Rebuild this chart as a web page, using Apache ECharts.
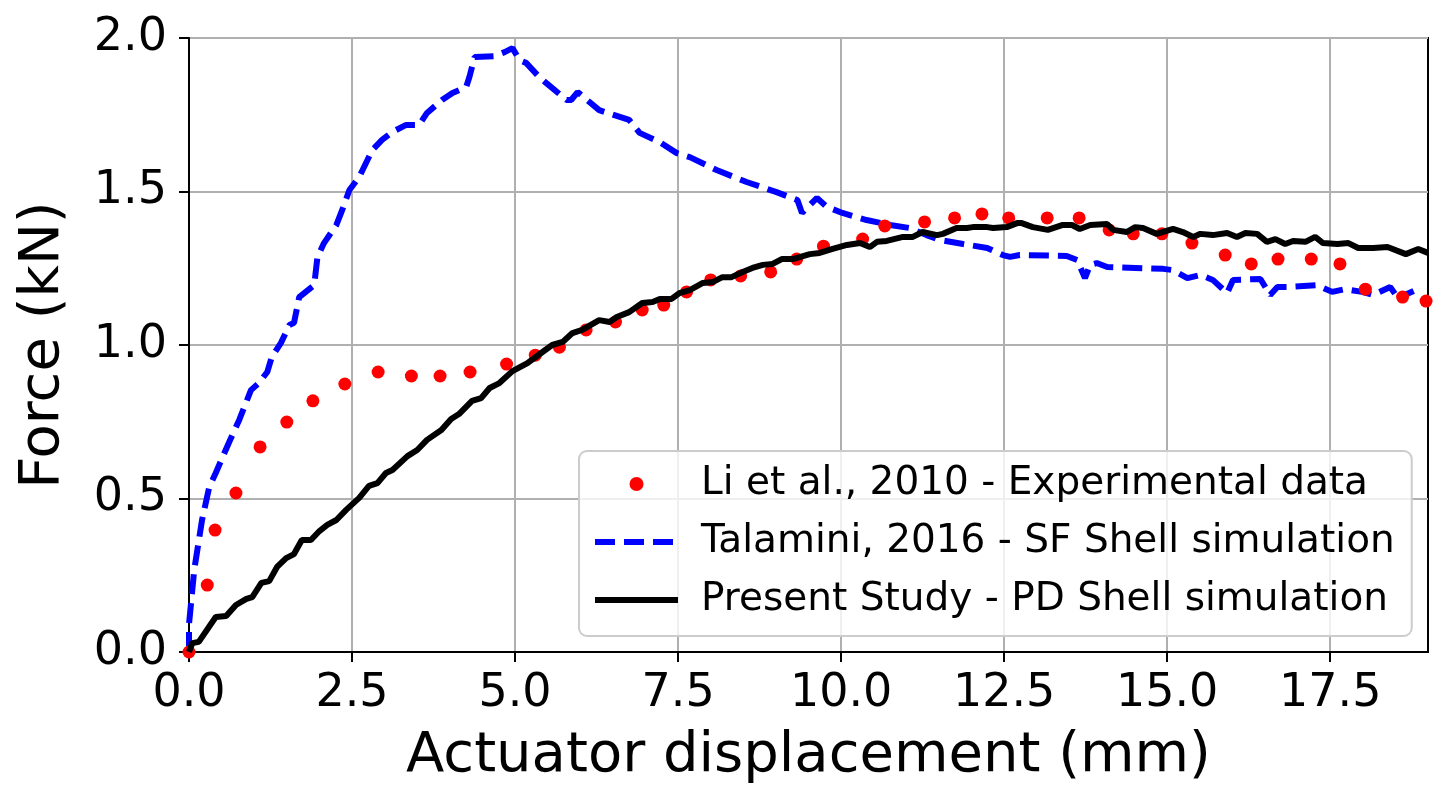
<!DOCTYPE html>
<html>
<head>
<meta charset="utf-8">
<script src="https://cdn.jsdelivr.net/npm/echarts@6/dist/echarts.min.js"></script>
<style>
  html, body { margin: 0; padding: 0; background: #fff; }
  #chart { width: 1449px; height: 807px; }
</style>
</head>
<body>
<div id="chart"></div>
<script>
// Li et al., 2010 - experimental points
const liX = [0, 0.28, 0.40, 0.72, 1.09, 1.50, 1.90, 2.39, 2.90, 3.41, 3.85, 4.31, 4.87, 5.31, 5.68,
  6.09, 6.54, 6.95, 7.28, 7.63, 8.00, 8.46, 8.92, 9.32, 9.73, 10.33, 10.67, 11.28, 11.74, 12.16,
  12.57, 13.16, 13.65, 14.11, 14.48, 14.92, 15.38, 15.89, 16.29, 16.70, 17.21, 17.65, 18.04, 18.61, 18.97];
const liY = [0, 0.218, 0.397, 0.518, 0.668, 0.749, 0.818, 0.873, 0.912, 0.899, 0.899, 0.912, 0.938, 0.967, 0.993,
  1.049, 1.075, 1.114, 1.130, 1.173, 1.212, 1.225, 1.238, 1.280, 1.322, 1.345, 1.388, 1.401, 1.414, 1.427,
  1.414, 1.414, 1.414, 1.375, 1.362, 1.362, 1.332, 1.293, 1.264, 1.280, 1.280, 1.264, 1.182, 1.156, 1.143];

// Talamini, 2016 - SF shell
const talX = [0, 0, 0.08, 0.20, 0.31, 0.41, 0.61, 0.77, 0.95, 1.07, 1.20, 1.27, 1.41, 1.54, 1.61, 1.69,
  1.92, 1.97, 2.07, 2.26, 2.35, 2.46, 2.61, 2.81, 2.96, 3.12, 3.33, 3.53, 3.65, 3.88, 4.04, 4.25,
  4.30, 4.38, 4.68, 4.84, 4.96, 5.07, 5.17, 5.37, 5.48, 5.79, 5.86, 5.96, 6.29, 6.75, 6.91, 7.22,
  7.48, 7.68, 8.09, 8.55, 9.01, 9.33, 9.40, 9.63, 9.78, 10.02, 10.39, 10.75, 11.05, 11.31, 11.51,
  11.87, 12.24, 12.48, 12.59, 12.74, 13.46, 13.62, 13.74, 13.82, 13.92, 14.08, 14.94, 15.09, 15.31,
  15.51, 15.70, 15.92, 16.01, 16.43, 16.58, 16.69, 16.84, 17.30, 17.53, 17.73, 17.99, 18.16, 18.42,
  18.54, 18.78];
const talY = [0, 0.09, 0.267, 0.43, 0.537, 0.583, 0.681, 0.756, 0.853, 0.876, 0.912, 0.961, 1.007, 1.065, 1.072, 1.156,
  1.195, 1.287, 1.332, 1.391, 1.440, 1.505, 1.547, 1.635, 1.668, 1.694, 1.717, 1.717, 1.756, 1.798, 1.821, 1.840,
  1.873, 1.938, 1.941, 1.954, 1.967, 1.928, 1.919, 1.873, 1.853, 1.798, 1.798, 1.824, 1.765, 1.733, 1.691, 1.661,
  1.625, 1.612, 1.570, 1.531, 1.498, 1.472, 1.430, 1.479, 1.450, 1.430, 1.407, 1.391, 1.381, 1.358, 1.342,
  1.329, 1.316, 1.293, 1.287, 1.293, 1.290, 1.277, 1.218, 1.261, 1.267, 1.254, 1.248, 1.244, 1.218,
  1.228, 1.212, 1.169, 1.212, 1.215, 1.163, 1.189, 1.189, 1.195, 1.173, 1.182, 1.173, 1.163, 1.189,
  1.153, 1.176];

// Present study - PD shell
const pdX = [0, 0.05, 0.15, 0.41, 0.57, 0.72, 0.88, 0.97, 1.11, 1.23, 1.35, 1.49, 1.61, 1.73, 1.87, 2.00,
  2.12, 2.26, 2.41, 2.61, 2.76, 2.89, 3.02, 3.12, 3.35, 3.50, 3.65, 3.87, 4.02, 4.14, 4.34, 4.48,
  4.61, 4.76, 4.96, 5.19, 5.40, 5.57, 5.73, 5.88, 6.03, 6.29, 6.45, 6.56, 6.75, 6.95, 7.11, 7.22,
  7.40, 7.52, 7.68, 7.88, 8.03, 8.18, 8.32, 8.49, 8.64, 8.80, 8.95, 9.09, 9.26, 9.52, 9.67, 9.87,
  10.09, 10.29, 10.44, 10.55, 10.70, 10.95, 11.10, 11.25, 11.47, 11.56, 11.77, 11.93, 12.02, 12.24,
  12.33, 12.54, 12.70, 12.77, 12.94, 13.17, 13.40, 13.54, 13.66, 13.82, 14.08, 14.17, 14.38, 14.51,
  14.63, 14.84, 15.09, 15.24, 15.40, 15.51, 15.70, 15.92, 16.07, 16.20, 16.38, 16.53, 16.66, 16.81,
  16.93, 17.12, 17.27, 17.39, 17.61, 17.78, 17.93, 18.16, 18.38, 18.66, 18.85, 19.00];
const pdY = [0, 0.029, 0.033, 0.114, 0.117, 0.153, 0.173, 0.179, 0.225, 0.231, 0.277, 0.306, 0.319, 0.365, 0.365, 0.394,
  0.414, 0.430, 0.463, 0.502, 0.541, 0.550, 0.583, 0.593, 0.638, 0.658, 0.691, 0.723, 0.759, 0.775, 0.818, 0.827,
  0.860, 0.876, 0.915, 0.941, 0.974, 1.000, 1.010, 1.039, 1.049, 1.081, 1.075, 1.091, 1.107, 1.137, 1.140, 1.150,
  1.150, 1.169, 1.179, 1.202, 1.205, 1.221, 1.221, 1.238, 1.251, 1.261, 1.264, 1.280, 1.280, 1.296, 1.300, 1.313,
  1.326, 1.332, 1.319, 1.336, 1.339, 1.352, 1.352, 1.368, 1.358, 1.362, 1.381, 1.381, 1.384, 1.384,
  1.381, 1.384, 1.397, 1.397, 1.384, 1.375, 1.391, 1.391, 1.378, 1.391, 1.394, 1.375, 1.368, 1.384,
  1.381, 1.362, 1.378, 1.368, 1.352, 1.362, 1.358, 1.365, 1.352, 1.365, 1.362, 1.336, 1.345, 1.329,
  1.339, 1.336, 1.352, 1.332, 1.329, 1.332, 1.316, 1.316, 1.319, 1.296, 1.313, 1.300];

const xTicks = [0, 2.5, 5, 7.5, 10, 12.5, 15, 17.5];

const names = [
  'Li et al., 2010 - Experimental data',
  'Talamini, 2016 - SF Shell simulation',
  'Present Study - PD Shell simulation'
];

function pairs(xs, ys) {
  return xs.map((x, i) => [x, ys[i]]);
}

const FONT = 'DejaVu Sans';
const LW = 6;
const DASH = [20, 9];

const myChart = echarts.init(document.getElementById('chart'), null, { renderer: 'canvas' });

const option = {
  animation: false,
  textStyle: { fontFamily: FONT },
  grid: {
    left: 189, top: 38, right: 21, bottom: 155,
    show: true, borderColor: '#000', borderWidth: 2, backgroundColor: 'transparent'
  },
  legend: {
    data: [
      { name: names[0], icon: 'circle', itemStyle: { color: '#ff0000', opacity: 1 } },
      {
        name: names[1],
        itemStyle: { color: 'transparent', borderWidth: 0 },
        lineStyle: { color: '#0000ff', width: LW, type: DASH }
      },
      {
        name: names[2],
        itemStyle: { color: 'transparent', borderWidth: 0 },
        lineStyle: { color: '#000000', width: LW, type: 'solid' }
      }
    ],
    orient: 'vertical',
    left: 579,
    top: 451,
    padding: [11, 17, 14, 13],
    itemGap: 14,
    itemWidth: 83,
    itemHeight: 14,
    backgroundColor: 'rgba(255,255,255,0.8)',
    borderColor: '#cccccc',
    borderWidth: 2,
    borderRadius: 8,
    textStyle: {
      fontFamily: FONT, fontSize: 39, color: '#000',
      lineHeight: 44, padding: [0, 0, 0, 18]
    }
  },
  xAxis: {
    type: 'value',
    min: 0, max: 19, interval: 2.5,
    name: 'Actuator displacement (mm)',
    nameLocation: 'middle',
    nameGap: 76,
    nameTextStyle: { fontFamily: FONT, fontSize: 56, color: '#000' },
    axisLine: { show: true, lineStyle: { color: '#000', width: 2 } },
    axisTick: { show: true, inside: false, length: 10, lineStyle: { color: '#000', width: 2 }, customValues: xTicks },
    axisLabel: {
      fontFamily: FONT, fontSize: 46, color: '#000', margin: 19,
      customValues: xTicks,
      formatter: v => v.toFixed(1)
    },
    splitLine: { show: true, lineStyle: { color: '#b0b0b0', width: 2 } }
  },
  yAxis: {
    type: 'value',
    min: 0, max: 2, interval: 0.5,
    name: 'Force (kN)',
    nameLocation: 'middle',
    nameGap: 118,
    nameTextStyle: { fontFamily: FONT, fontSize: 56, color: '#000' },
    axisLine: { show: true, lineStyle: { color: '#000', width: 2 } },
    axisTick: { show: true, inside: false, length: 10, lineStyle: { color: '#000', width: 2 } },
    axisLabel: {
      fontFamily: FONT, fontSize: 46, color: '#000', margin: 22,
      formatter: v => v.toFixed(1)
    },
    splitLine: { show: true, lineStyle: { color: '#b0b0b0', width: 2 } }
  },
  series: [
    {
      name: names[0],
      type: 'scatter',
      data: pairs(liX, liY),
      symbol: 'circle',
      symbolSize: 13,
      itemStyle: { color: '#ff0000', opacity: 1 },
      z: 3
    },
    {
      name: names[1],
      type: 'line',
      data: pairs(talX, talY),
      showSymbol: false,
      symbol: 'none',
      lineStyle: { color: '#0000ff', width: LW, type: DASH },
      itemStyle: { color: '#0000ff' },
      z: 2
    },
    {
      name: names[2],
      type: 'line',
      data: pairs(pdX, pdY),
      showSymbol: false,
      symbol: 'none',
      lineStyle: { color: '#000000', width: LW },
      itemStyle: { color: '#000000' },
      z: 4
    }
  ]
};

myChart.setOption(option);
</script>
</body>
</html>
